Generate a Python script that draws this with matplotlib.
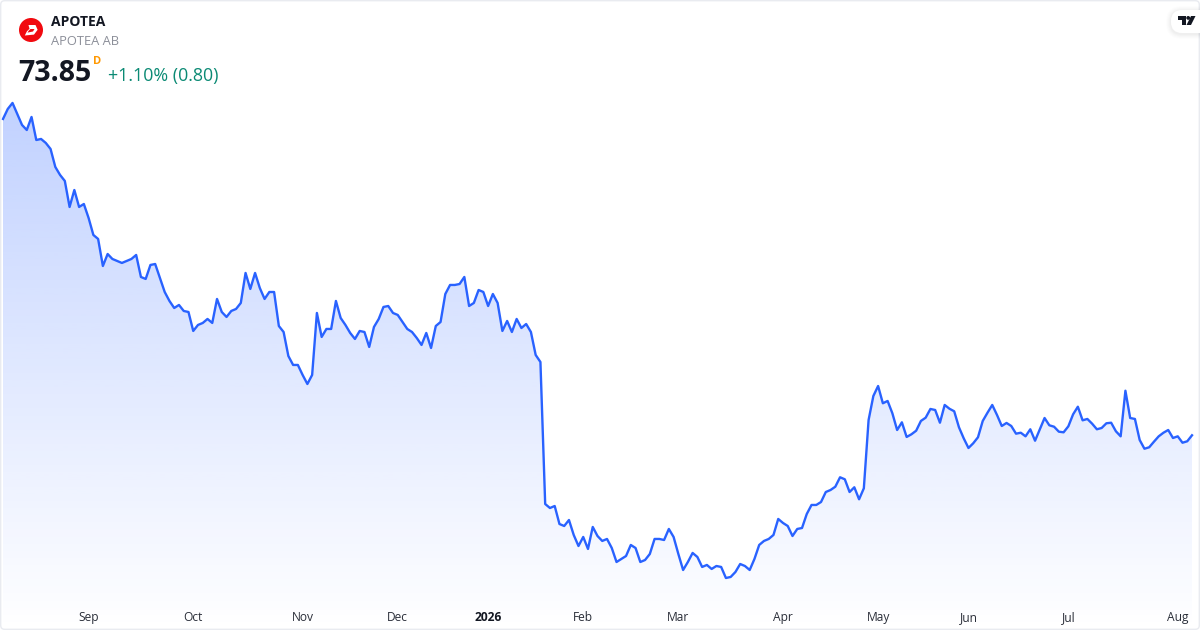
import numpy as np
import matplotlib
matplotlib.use("Agg")
import matplotlib.pyplot as plt
from matplotlib.patches import Circle, FancyBboxPatch, Polygon

plt.rcParams['font.family'] = ['Open Sans', 'Noto Sans', 'DejaVu Sans']

# ---- data -------------------------------------------------------------
close_aug_nov = [
    113.39,114.64,115.39,114.01,112.64,112.01,113.64,110.76,110.89,110.39,109.64,107.39,106.39,105.64,102.39,104.51,102.39,102.76,
    101.01,98.89,98.39,95.01,96.51,95.89,95.64,95.39,95.64,95.89,96.39,93.64,93.39,95.14,95.26,
    93.51,91.76,90.64,89.76,90.14,89.39,89.26,86.89,87.64,87.89,88.39,87.89,90.89,89.26,88.64,89.39,89.64,90.39,94.14,92.14,94.14,
    92.26,90.89,91.76,91.76,87.51,86.76,83.76,82.64,82.64,81.39,80.26,81.39,89.14,86.14,87.14,87.14,
]
close_nov_jan = [
    90.64,88.51,87.64,86.64,85.89,86.89,86.76,84.89,87.39,88.39,89.89,90.01,89.14,88.89,88.01,87.14,86.76,86.01,85.14,86.64,84.76,
    87.51,88.01,91.51,92.64,92.64,92.76,93.64,90.01,90.39,92.01,91.76,90.01,91.51,90.39,86.89,88.14,86.76,88.39,87.26,87.76,86.76,83.89,83.01,
]
close_jan_apr = [
    65.26,64.76,65.01,62.76,62.51,63.26,61.39,60.01,61.14,59.64,62.39,61.26,60.64,60.89,59.76,58.01,58.39,58.76,60.14,59.76,58.01,58.26,
    59.01,60.89,60.89,60.76,62.14,61.14,59.01,57.01,58.01,59.14,58.64,57.39,57.64,57.14,57.51,57.39,56.01,56.14,56.76,57.76,57.51,57.01,
    58.39,60.14,60.64,60.89,61.39,63.39,62.89,62.51,61.26,62.14,62.26,64.01,65.14,65.14,65.51,66.76,67.01,
]
close_apr_aug = [
    67.42,68.60,68.35,66.76,67.35,65.85,67.22,75.76,78.76,80.01,77.85,78.14,76.60,74.51,75.47,73.64,73.97,74.42,75.64,76.05,77.14,77.01,
    75.42,77.64,77.17,76.85,74.85,73.47,72.26,72.85,73.60,75.64,76.67,77.64,76.39,75.01,75.39,75.01,74.05,74.17,73.72,74.60,73.17,74.60,
    76.01,75.10,74.92,74.30,74.22,74.97,76.47,77.42,75.72,75.89,75.30,74.60,74.76,75.35,75.42,74.35,73.72,79.42,76.01,75.89,73.26,72.17,
    72.35,73.05,73.72,74.17,74.51,73.51,73.72,72.92,73.10,73.85,
]
tick_sessions = [18, 40, 63, 83, 102, 122, 142, 164, 184, 203, 224, 247]
tick_labels = ['Sep', 'Oct', 'Nov', 'Dec', '2026', 'Feb', 'Mar', 'Apr', 'May', 'Jun', 'Jul', 'Aug']

close = np.array(close_aug_nov + close_nov_jan + close_jan_apr + close_apr_aug)
sessions = np.arange(len(close))

BLUE = '#2962FF'
W, H = 1200, 630
STEP = 4.756
X0 = 3.0
PRICE_TOP, PRICE_BOTTOM = 128.26, 49.51

fig = plt.figure(figsize=(W / 100, H / 100), dpi=100, facecolor='white')
ax = fig.add_axes([0, 0, 1, 1])
ax.set_xlim(-X0 / STEP, (W - X0) / STEP)
ax.set_ylim(PRICE_BOTTOM, PRICE_TOP)
for s in ax.spines.values():
    s.set_visible(False)
ax.yaxis.set_visible(False)

# gradient area
poly = ax.fill_between(sessions, close, PRICE_BOTTOM + 0.15, color='none', lw=0)
rgba = np.zeros((256, 1, 4))
rgba[..., 0], rgba[..., 1], rgba[..., 2] = 41 / 255, 98 / 255, 1.0
rgba[..., 3] = np.linspace(0.29, 0.0, 256)[:, None]
im = ax.imshow(rgba, extent=[sessions[0], sessions[-1], PRICE_BOTTOM, close.max()],
               aspect='auto', origin='upper', interpolation='bilinear', zorder=1)
im.set_clip_path(poly.get_paths()[0], ax.transData)
ax.set_xlim(-X0 / STEP, (W - X0) / STEP)
ax.set_ylim(PRICE_BOTTOM, PRICE_TOP)

ax.plot(sessions, close, color=BLUE, lw=1.7, solid_joinstyle='round', zorder=2)

ax.set_xticks(tick_sessions)
ax.set_xticklabels(tick_labels)
ax.tick_params(axis='x', length=0, pad=-8.7, labelsize=8.64, labelcolor='#2a2e39')
for lab in ax.get_xticklabels():
    lab.set_verticalalignment('center')
    if lab.get_text() == '2026':
        lab.set_fontweight('bold')
        lab.set_color('#131722')

# overlay in pixel coordinates: frame, header, logos
ov = fig.add_axes([0, 0, 1, 1], facecolor='none')
ov.set_xlim(0, W)
ov.set_ylim(H, 0)
ov.axis('off')

ov.add_patch(FancyBboxPatch((0.7, 0.7), W - 1.4, H - 1.4, boxstyle='round,pad=0,rounding_size=4',
                            fc='none', ec='#e9ebf0', lw=1.0))

ov.add_patch(Circle((31, 30), 12, fc='#f10a0f', ec='none'))
ov.add_patch(Polygon([(28.5, 25), (35.5, 25), (37.6, 29.8), (34, 34.6), (24.8, 35.5), (27, 31.2),
                      (29.5, 28.8)], closed=True, fc='white', ec='none'))
ov.add_patch(Polygon([(30.5, 29), (34.5, 29), (33, 31.5), (27.5, 32.6), (28.6, 30.8)],
                     closed=True, fc='#f10a0f', ec='none'))

ov.text(51, 21.8, 'APOTEA', fontsize=10.0, fontweight='bold', color='#131722', va='center', ha='left')
ov.text(51, 41.8, 'APOTEA AB', fontsize=9.3, color='#8c8f99', va='center', ha='left')
ov.text(18.5, 73.5, '73.85', fontsize=20.5, fontweight='bold', color='#131722', va='center', ha='left')
ov.text(93, 62, 'D', fontsize=8, fontweight='bold', color='#ff9800', va='center', ha='left')
ov.text(108, 75.5, '+1.10% (0.80)', fontsize=12.9, color='#0b8a74', va='center', ha='left')

# chart-library badge
for spread, alpha in [(5, .008), (4, .010), (3, .012), (2, .014), (1, .016)]:
    ov.add_patch(FancyBboxPatch((1171 - spread, 11 - spread), 60 + spread, 23 + 2 * spread,
                                boxstyle='round,pad=0,rounding_size=%d' % (11 + spread),
                                fc='black', ec='none', alpha=alpha))
ov.add_patch(FancyBboxPatch((1171, 10), 60, 23, boxstyle='round,pad=0,rounding_size=11', fc='white', ec='none'))
ov.add_patch(Polygon([(1177.5, 16), (1186, 16), (1186, 25), (1182, 25), (1182, 19.5), (1177.5, 19.5)],
                     closed=True, fc='#131722', ec='none'))
ov.add_patch(Circle((1188.2, 17.9), 1.9, fc='#131722', ec='none'))
ov.add_patch(Polygon([(1191, 16), (1195.5, 16), (1191, 25), (1186.5, 25)], closed=True, fc='#131722', ec='none'))
ov.set_xlim(0, W)
ov.set_ylim(H, 0)

fig.savefig('out.png', dpi=100, facecolor='white')
